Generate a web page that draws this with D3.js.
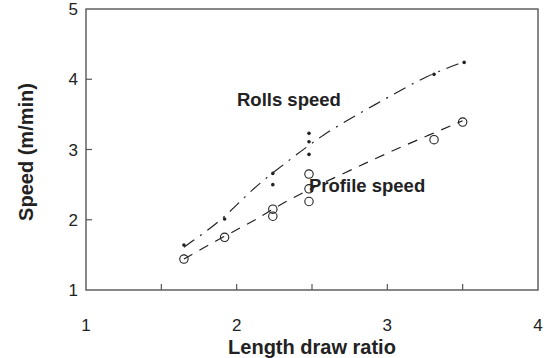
<!DOCTYPE html>
<html>
<head>
<meta charset="utf-8">
<script src="https://cdn.jsdelivr.net/npm/d3@7/dist/d3.min.js"></script>
<style>
  html, body { margin: 0; padding: 0; background: #fff; }
  svg { display: block; font-family: "Liberation Sans", Arial, sans-serif; }
</style>
</head>
<body>
<svg id="chart" width="547" height="358"></svg>
<script>
// ---- data ----
const rollsX = [1.65, 1.92, 2.24, 2.24, 2.48, 2.48, 2.48, 3.31, 3.51];
const rollsY = [1.64, 2.01, 2.66, 2.50, 3.23, 3.11, 2.93, 4.07, 4.24];
const profileX = [1.65, 1.92, 2.24, 2.24, 2.48, 2.48, 2.48, 3.31, 3.50];
const profileY = [1.44, 1.75, 2.15, 2.05, 2.65, 2.44, 2.26, 3.14, 3.39];
// fitted trend curves
const rollsFitX = [1.65, 1.92, 2.09, 2.35, 2.57, 2.81, 3.02, 3.26, 3.51];
const rollsFitY = [1.61, 2.02, 2.42, 2.85, 3.21, 3.51, 3.76, 4.05, 4.25];
const profileFitX = [1.65, 1.92, 2.13, 2.35, 2.70, 3.03, 3.26, 3.50];
const profileFitY = [1.44, 1.77, 2.00, 2.30, 2.65, 2.98, 3.19, 3.41];
const xTicks = [1, 2, 3, 4];
const yTicks = [1, 2, 3, 4, 5];
const xMinorTicks = [1.5, 2, 2.5, 3, 3.5];
const yInnerTicks = [2, 3, 4];
const seriesLabels = ["Rolls speed", "Profile speed"];
const xTitle = "Length draw ratio";
const yTitle = "Speed (m/min)";

// ---- layout ----
const svg = d3.select("#chart");
const L = 86, R = 538, T = 9, B = 290;
const x = d3.scaleLinear().domain([1, 4]).range([L, R]);
const y = d3.scaleLinear().domain([1, 5]).range([B, T]);
const ink = "#222";
const axisCol = "#555";

// frame
svg.append("rect").attr("x", L).attr("y", T).attr("width", R - L).attr("height", B - T)
  .attr("fill", "none").attr("stroke", axisCol).attr("stroke-width", 1.4);

// inner ticks
svg.append("g").selectAll("line").data(xMinorTicks).join("line")
  .attr("x1", d => x(d)).attr("x2", d => x(d)).attr("y1", B).attr("y2", B - 6)
  .attr("stroke", axisCol).attr("stroke-width", 1.2);
svg.append("g").selectAll("line").data(yInnerTicks).join("line")
  .attr("x1", L).attr("x2", L + 6).attr("y1", d => y(d)).attr("y2", d => y(d))
  .attr("stroke", axisCol).attr("stroke-width", 1.2);

// tick labels
svg.append("g").selectAll("text").data(xTicks).join("text")
  .attr("x", d => x(d)).attr("y", 331).attr("text-anchor", "middle")
  .attr("font-size", 17).attr("fill", ink).text(d => d);
svg.append("g").selectAll("text").data(yTicks).join("text")
  .attr("x", 78).attr("y", d => y(d) + 6).attr("text-anchor", "end")
  .attr("font-size", 17).attr("fill", ink).text(d => d);

// axis titles
svg.append("text").attr("x", 312).attr("y", 354).attr("text-anchor", "middle")
  .attr("font-size", 20).attr("font-weight", "bold").attr("fill", ink).text(xTitle);
svg.append("text").attr("transform", "translate(33,152) rotate(-90)")
  .attr("text-anchor", "middle").attr("font-size", 20).attr("font-weight", "bold")
  .attr("fill", ink).text(yTitle);

// fitted curves
const line = d3.line().x(d => x(d[0])).y(d => y(d[1])).curve(d3.curveBasis);
svg.append("path").datum(d3.zip(rollsFitX, rollsFitY)).attr("d", line)
  .attr("fill", "none").attr("stroke", ink).attr("stroke-width", 1.2)
  .attr("stroke-dasharray", "13,7,2,7");
svg.append("path").datum(d3.zip(profileFitX, profileFitY)).attr("d", line)
  .attr("fill", "none").attr("stroke", ink).attr("stroke-width", 1.2)
  .attr("stroke-dasharray", "10,8");

// points
svg.append("g").selectAll("circle").data(d3.zip(rollsX, rollsY)).join("circle")
  .attr("cx", d => x(d[0])).attr("cy", d => y(d[1])).attr("r", 1.8).attr("fill", ink);
svg.append("g").selectAll("circle").data(d3.zip(profileX, profileY)).join("circle")
  .attr("cx", d => x(d[0])).attr("cy", d => y(d[1])).attr("r", 4.2)
  .attr("fill", "none").attr("stroke", ink).attr("stroke-width", 1.1);

// series labels
svg.append("text").attr("x", 237).attr("y", 106).attr("font-size", 18.5)
  .attr("font-weight", "bold").attr("fill", ink).text(seriesLabels[0]);
svg.append("text").attr("x", 309).attr("y", 192).attr("font-size", 18.5)
  .attr("font-weight", "bold").attr("fill", ink).text(seriesLabels[1]);
</script>
</body>
</html>
